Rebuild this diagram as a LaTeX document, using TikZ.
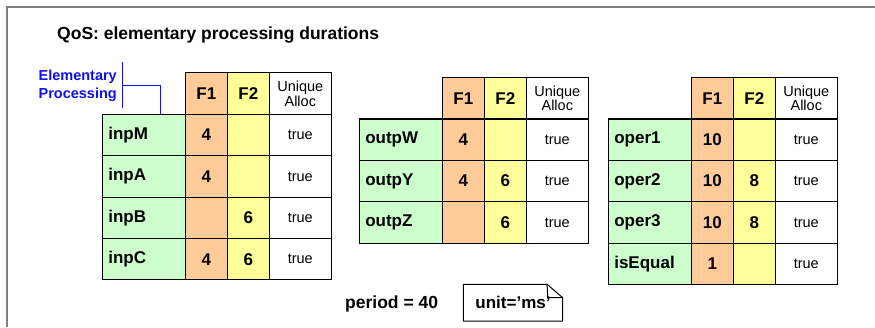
\documentclass[tikz,border=0pt]{standalone}
\usepackage{fontspec}
\setmainfont{Liberation Sans}
\usetikzlibrary{positioning}

\definecolor{fonefill}{HTML}{FFCC99}
\definecolor{ftwofill}{HTML}{FFFF99}
\definecolor{namefill}{HTML}{CCFFCC}
\definecolor{framegray}{HTML}{808080}
\definecolor{procblue}{HTML}{1010F0}

\begin{document}
\begin{tikzpicture}[
        x=1pt, y=-1pt, % pixel-like units, y grows downwards
        cell/.style={draw, line width=1.1pt, minimum height=41.4pt, inner sep=0pt, outer sep=0pt,
                font=\fontsize{17}{20}\bfseries\selectfont},
        namecell/.style={cell, fill=namefill, text width=71pt, inner xsep=6pt, align=left},
        fonecell/.style={cell, fill=fonefill, minimum width=42pt},
        ftwocell/.style={cell, fill=ftwofill, minimum width=42pt},
        uniqcell/.style={cell, fill=white, minimum width=62pt, align=center,
                font=\fontsize{14.5}{14.5}\selectfont},
        bigtext/.style={inner sep=0pt, font=\fontsize{17.5}{20}\bfseries\selectfont},
        procline/.style={draw=procblue, line width=1pt},
        notebox/.style={draw, line width=1pt},
    ]

    \useasboundingbox (0,0) rectangle (875,327);

    % frame of the slide
    \draw[framegray, line width=2pt] (875,6.7) -- (6.7,6.7) -- (6.7,327);

    \node[bigtext, anchor=base west] (title) at (57,39.3) {QoS: elementary processing durations};

    % first table
    \node[namecell, anchor=north west] (inpM) at (102.3,114.3) {inpM};
    \node[fonecell, right=0pt of inpM] (inpM1) {4};
    \node[ftwocell, right=0pt of inpM1] (inpM2) {};
    \node[uniqcell, right=0pt of inpM2] (inpMu) {true};
    \node[namecell, below=0pt of inpM] (inpA) {inpA};
    \node[fonecell, right=0pt of inpA] (inpA1) {4};
    \node[ftwocell, right=0pt of inpA1] (inpA2) {};
    \node[uniqcell, right=0pt of inpA2] (inpAu) {true};
    \node[namecell, below=0pt of inpA] (inpB) {inpB};
    \node[fonecell, right=0pt of inpB] (inpB1) {};
    \node[ftwocell, right=0pt of inpB1] (inpB2) {6};
    \node[uniqcell, right=0pt of inpB2] (inpBu) {true};
    \node[namecell, below=0pt of inpB] (inpC) {inpC};
    \node[fonecell, right=0pt of inpC] (inpC1) {4};
    \node[ftwocell, right=0pt of inpC1] (inpC2) {6};
    \node[uniqcell, right=0pt of inpC2] (inpCu) {true};
    \node[fonecell, above=0pt of inpM1] (hdrA1) {F1};
    \node[ftwocell, above=0pt of inpM2] (hdrA2) {F2};
    \node[uniqcell, above=0pt of inpMu] (hdrAu) {Unique\\Alloc};

    % second table
    \node[namecell, anchor=north west] (outpW) at (359.3,119) {outpW};
    \node[fonecell, right=0pt of outpW] (outpW1) {4};
    \node[ftwocell, right=0pt of outpW1] (outpW2) {};
    \node[uniqcell, right=0pt of outpW2] (outpWu) {true};
    \node[namecell, below=0pt of outpW] (outpY) {outpY};
    \node[fonecell, right=0pt of outpY] (outpY1) {4};
    \node[ftwocell, right=0pt of outpY1] (outpY2) {6};
    \node[uniqcell, right=0pt of outpY2] (outpYu) {true};
    \node[namecell, below=0pt of outpY] (outpZ) {outpZ};
    \node[fonecell, right=0pt of outpZ] (outpZ1) {};
    \node[ftwocell, right=0pt of outpZ1] (outpZ2) {6};
    \node[uniqcell, right=0pt of outpZ2] (outpZu) {true};
    \node[fonecell, above=0pt of outpW1] (hdrB1) {F1};
    \node[ftwocell, above=0pt of outpW2] (hdrB2) {F2};
    \node[uniqcell, above=0pt of outpWu] (hdrBu) {Unique\\Alloc};

    % third table
    \node[namecell, anchor=north west] (oper1) at (608.3,119) {oper1};
    \node[fonecell, right=0pt of oper1] (oper11) {10};
    \node[ftwocell, right=0pt of oper11] (oper12) {};
    \node[uniqcell, right=0pt of oper12] (oper1u) {true};
    \node[namecell, below=0pt of oper1] (oper2) {oper2};
    \node[fonecell, right=0pt of oper2] (oper21) {10};
    \node[ftwocell, right=0pt of oper21] (oper22) {8};
    \node[uniqcell, right=0pt of oper22] (oper2u) {true};
    \node[namecell, below=0pt of oper2] (oper3) {oper3};
    \node[fonecell, right=0pt of oper3] (oper31) {10};
    \node[ftwocell, right=0pt of oper31] (oper32) {8};
    \node[uniqcell, right=0pt of oper32] (oper3u) {true};
    \node[namecell, below=0pt of oper3] (isEqual) {isEqual};
    \node[fonecell, right=0pt of isEqual] (isEqual1) {1};
    \node[ftwocell, right=0pt of isEqual1] (isEqual2) {};
    \node[uniqcell, right=0pt of isEqual2] (isEqualu) {true};
    \node[fonecell, above=0pt of oper11] (hdrC1) {F1};
    \node[ftwocell, above=0pt of oper12] (hdrC2) {F2};
    \node[uniqcell, above=0pt of oper1u] (hdrCu) {Unique\\Alloc};

    % label of the name column
    \node[anchor=east, align=right, inner sep=0pt, text=procblue,
        font=\fontsize{14.5}{18}\bfseries\selectfont] (elem) at (117,86) {Elementary\\Processing};
    \coordinate (brkTop) at (122.7,62.3);
    \coordinate (brkBot) at (122.7,108.3);
    \coordinate (brkMid) at (122.7,85.7);
    \draw[procline] (brkTop) -- (brkBot);
    \draw[procline] (brkMid) -| ([xshift=58.4pt]inpM.north west);

    % period and unit note
    \node[bigtext, anchor=base west] (period) at (345,308.3) {period = 40};
    \node[anchor=north west, minimum width=99pt, minimum height=36.4pt, inner sep=0pt,
        font=\fontsize{17}{20}\bfseries\selectfont] (unit) at (463.3,284.3) {unit=’ms’};
    \draw[notebox] (unit.north west) -- ([xshift=-15.6pt]unit.north east)
        -- ([yshift=-13.4pt]unit.north east) -- (unit.south east) -- (unit.south west) -- cycle;
    \draw[notebox] ([xshift=-15.6pt]unit.north east) -- ([xshift=-15pt,yshift=-13.4pt]unit.north east)
        -- ([yshift=-13.4pt]unit.north east);
\end{tikzpicture}
\end{document}
